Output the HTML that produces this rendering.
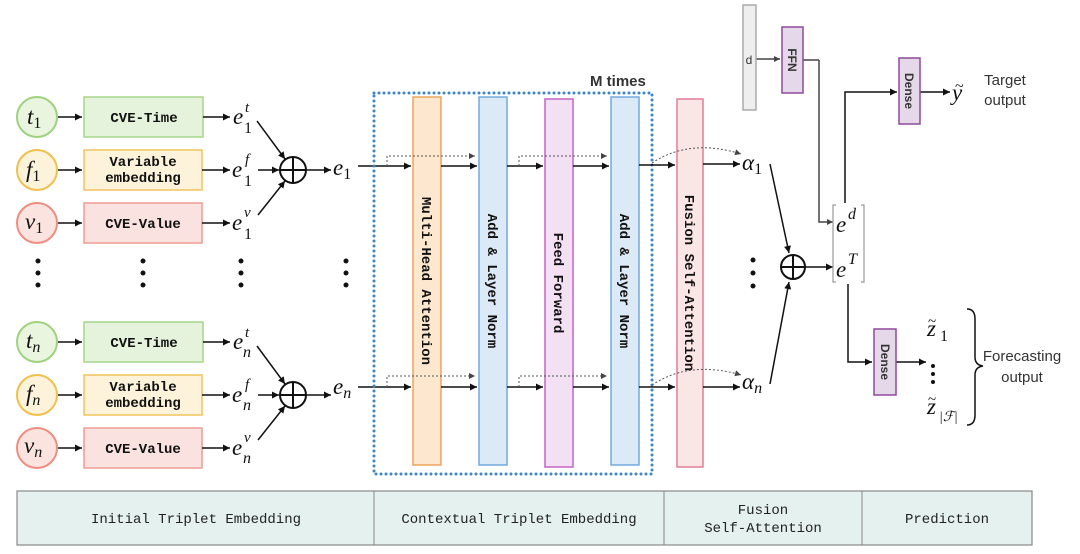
<!DOCTYPE html>
<html><head><meta charset="utf-8"><style>
html,body{margin:0;padding:0;background:#fff;width:1080px;height:554px;overflow:hidden}
svg{display:block}
.m{font-family:"Liberation Mono",monospace;font-weight:bold;font-size:14px;fill:#111}
.mt{font-family:"Liberation Serif",serif;font-style:italic;fill:#111}
.s{font-family:"Liberation Sans",sans-serif;fill:#333}
.tb{font-family:"Liberation Mono",monospace;font-size:14px;fill:#222}
</style></head><body>
<svg width="1080" height="554" viewBox="0 0 1080 554" xmlns="http://www.w3.org/2000/svg">
<defs>
<marker id="a" viewBox="0 0 10 10" refX="10" refY="5" markerWidth="9" markerHeight="7" markerUnits="userSpaceOnUse" orient="auto"><path d="M0,0L10,5L0,10z" fill="#111"/></marker>
<marker id="g" viewBox="0 0 10 10" refX="10" refY="5" markerWidth="8" markerHeight="6" markerUnits="userSpaceOnUse" orient="auto"><path d="M0,0L10,5L0,10z" fill="#444"/></marker>
</defs>
<g stroke="#111" stroke-width="1.5" fill="none">
<g id="rows">
<circle cx="37" cy="117" r="20" fill="#eaf5e0" stroke="#9fd27f" stroke-width="2"/>
<circle cx="37" cy="170" r="20" fill="#fdf3da" stroke="#f0c04c" stroke-width="2"/>
<circle cx="37" cy="223" r="20" fill="#fbe4e0" stroke="#ee8e80" stroke-width="2"/>
<rect x="84" y="97" width="119" height="40" fill="#e5f3dc" stroke="#a6d68a"/>
<rect x="84" y="150" width="118" height="40" fill="#fdf3da" stroke="#f2c45c"/>
<rect x="84" y="203" width="118" height="40" fill="#f9e2df" stroke="#ee9c90"/>
<line x1="58" y1="117" x2="82" y2="117" marker-end="url(#a)"/>
<line x1="58" y1="170" x2="82" y2="170" marker-end="url(#a)"/>
<line x1="58" y1="223" x2="82" y2="223" marker-end="url(#a)"/>
<line x1="203" y1="117" x2="230" y2="117" marker-end="url(#a)"/>
<line x1="202" y1="170" x2="230" y2="170" marker-end="url(#a)"/>
<line x1="202" y1="223" x2="230" y2="223" marker-end="url(#a)"/>
<line x1="257" y1="121" x2="285" y2="159" marker-end="url(#a)"/>
<line x1="258" y1="170" x2="279" y2="170" marker-end="url(#a)"/>
<line x1="258" y1="215" x2="285" y2="181" marker-end="url(#a)"/>
<circle cx="293" cy="170" r="13" stroke-width="2" fill="#fff"/>
<line x1="280" y1="170" x2="306" y2="170" stroke-width="2"/>
<line x1="293" y1="157" x2="293" y2="183" stroke-width="2"/>
<line x1="306" y1="170" x2="331" y2="170" marker-end="url(#a)"/>
</g>
<use href="#rows" transform="translate(0,225)"/>
<line x1="358" y1="166" x2="411" y2="166" marker-end="url(#a)"/>
<line x1="358" y1="387" x2="411" y2="387" marker-end="url(#a)"/>
</g>
<g class="m" text-anchor="middle">
<text x="144" y="122">CVE-Time</text><text x="143" y="166">Variable</text><text x="143" y="182">embedding</text><text x="143" y="228">CVE-Value</text>
<text x="144" y="347">CVE-Time</text><text x="143" y="391">Variable</text><text x="143" y="407">embedding</text><text x="143" y="453">CVE-Value</text>
</g>
<g class="mt" font-size="23">
<text x="27" y="124">t<tspan font-style="normal" font-size="16" dy="4">1</tspan></text>
<text x="26" y="177">f<tspan font-style="normal" font-size="16" dy="4">1</tspan></text>
<text x="25" y="229">v<tspan font-style="normal" font-size="16" dy="4">1</tspan></text>
<text x="26" y="348">t<tspan font-size="16" dy="4">n</tspan></text>
<text x="26" y="401">f<tspan font-size="16" dy="4">n</tspan></text>
<text x="24" y="453">v<tspan font-size="16" dy="4">n</tspan></text>
<text x="333" y="175">e<tspan font-style="normal" font-size="16" dy="4">1</tspan></text>
<text x="333" y="394">e<tspan font-size="16" dy="4">n</tspan></text>
</g>
<g class="mt" font-size="23">
<text x="233" y="124">e</text><text x="232" y="177">e</text><text x="232" y="230">e</text>
<text x="233" y="349">e</text><text x="232" y="402">e</text><text x="232" y="455">e</text>
</g>
<g class="mt" font-size="15">
<text x="245" y="112">t</text><text x="244" y="133" font-style="normal" font-size="16">1</text>
<text x="245" y="164">f</text><text x="244" y="186" font-style="normal" font-size="16">1</text>
<text x="244" y="217">v</text><text x="244" y="239" font-style="normal" font-size="16">1</text>
<text x="245" y="337">t</text><text x="243" y="357" font-size="16">n</text>
<text x="245" y="389">f</text><text x="243" y="410" font-size="16">n</text>
<text x="244" y="442">v</text><text x="243" y="463" font-size="16">n</text>
</g>
<g fill="#111">
<circle cx="38" cy="261" r="2.5"/><circle cx="38" cy="273" r="2.5"/><circle cx="38" cy="285" r="2.5"/>
<circle cx="143" cy="261" r="2.5"/><circle cx="143" cy="273" r="2.5"/><circle cx="143" cy="285" r="2.5"/>
<circle cx="241" cy="261" r="2.5"/><circle cx="241" cy="273" r="2.5"/><circle cx="241" cy="285" r="2.5"/>
<circle cx="346" cy="261" r="2.5"/><circle cx="346" cy="273" r="2.5"/><circle cx="346" cy="285" r="2.5"/>
<circle cx="753" cy="260" r="2.5"/><circle cx="753" cy="273" r="2.5"/><circle cx="753" cy="286" r="2.5"/>
<circle cx="933" cy="366" r="2"/><circle cx="933" cy="374" r="2"/><circle cx="933" cy="382" r="2"/>
</g>
<rect x="374" y="93" width="278" height="381" fill="none" stroke="#3d85c6" stroke-width="3" stroke-dasharray="0 5" stroke-linecap="round"/>
<text x="590" y="86" class="s" font-size="15" font-weight="bold" fill="#444">M times</text>
<rect x="413" y="97" width="28" height="368" fill="#fde8cf" stroke="#eba55c" stroke-width="1.5"/>
<rect x="479" y="97" width="28" height="368" fill="#dceaf7" stroke="#72aade" stroke-width="1.5"/>
<rect x="545" y="99" width="28" height="368" fill="#f3e0f3" stroke="#c465c4" stroke-width="1.5"/>
<rect x="611" y="97" width="28" height="368" fill="#dceaf7" stroke="#72aade" stroke-width="1.5"/>
<rect x="677" y="99" width="26" height="368" fill="#fbe6e6" stroke="#e27d98" stroke-width="1.5"/>
<g class="m" font-size="15" text-anchor="middle">
<text transform="translate(422,281) rotate(90)">Multi-Head Attention</text>
<text transform="translate(488,281) rotate(90)">Add &amp; Layer Norm</text>
<text transform="translate(554,283) rotate(90)">Feed Forward</text>
<text transform="translate(620,281) rotate(90)">Add &amp; Layer Norm</text>
<text transform="translate(685,283) rotate(90)">Fusion Self-Attention</text>
</g>
<g stroke="#111" stroke-width="1.5" fill="none">
<line x1="441" y1="166" x2="477" y2="166" marker-end="url(#a)"/>
<line x1="507" y1="166" x2="543" y2="166" marker-end="url(#a)"/>
<line x1="573" y1="166" x2="609" y2="166" marker-end="url(#a)"/>
<line x1="639" y1="165" x2="675" y2="165" marker-end="url(#a)"/>
<line x1="703" y1="164" x2="740" y2="164" marker-end="url(#a)"/>
<line x1="441" y1="387" x2="477" y2="387" marker-end="url(#a)"/>
<line x1="507" y1="387" x2="543" y2="387" marker-end="url(#a)"/>
<line x1="573" y1="387" x2="609" y2="387" marker-end="url(#a)"/>
<line x1="639" y1="387" x2="675" y2="387" marker-end="url(#a)"/>
<line x1="703" y1="387" x2="740" y2="387" marker-end="url(#a)"/>
</g>
<g stroke="#555" stroke-width="1" fill="none" stroke-dasharray="2 2">
<path d="M387,166V156H475" marker-end="url(#g)"/>
<path d="M519,166V156H607" marker-end="url(#g)"/>
<path d="M387,387V376H475" marker-end="url(#g)"/>
<path d="M519,387V376H607" marker-end="url(#g)"/>
<path d="M652,163Q690,138 741,154" marker-end="url(#g)"/>
<path d="M652,385Q690,360 741,375" marker-end="url(#g)"/>
</g>
<g class="mt" font-size="23">
<text x="742" y="170">α<tspan font-style="normal" font-size="16" dy="4">1</tspan></text>
<text x="742" y="389">α<tspan font-size="16" dy="4">n</tspan></text>
</g>
<g stroke="#111" stroke-width="1.5" fill="none">
<line x1="770" y1="164" x2="789" y2="253" marker-end="url(#a)"/>
<line x1="770" y1="384" x2="789" y2="282" marker-end="url(#a)"/>
<circle cx="793" cy="267" r="12" stroke-width="2" fill="#fff"/>
<line x1="781" y1="267" x2="805" y2="267" stroke-width="2"/>
<line x1="793" y1="255" x2="793" y2="279" stroke-width="2"/>
<line x1="805" y1="267" x2="833" y2="267" marker-end="url(#a)"/>
<polyline points="819,60 819,222 833,222" stroke="#444" marker-end="url(#g)"/>
<line x1="756" y1="59" x2="780" y2="59" stroke="#444" marker-end="url(#g)"/>
<polyline points="803,60 819,60" stroke="#444"/>
<polyline points="845,203 845,92 897,92" marker-end="url(#a)"/>
<line x1="920" y1="92" x2="950" y2="92" marker-end="url(#a)"/>
<polyline points="848,284 848,362 872,362" marker-end="url(#a)"/>
<line x1="896" y1="362" x2="926" y2="362" marker-end="url(#a)"/>
<path d="M836,205h-3v77h3M861,205h3v77h-3" stroke="#999" stroke-width="1.2"/>
<path d="M967,309q8,0 8,10v38q0,8 8,9q-8,1 -8,9v40q0,10 -8,10" stroke-width="1.5"/>
</g>
<rect x="743" y="5" width="13" height="105" fill="#eee" stroke="#aaa" stroke-width="1.5"/>
<text x="749" y="64" class="s" font-size="12" fill="#222" text-anchor="middle">d</text>
<rect x="782" y="27" width="21" height="66" fill="#e5d8e8" stroke="#8e4a9b" stroke-width="1.5"/>
<rect x="899" y="58" width="21" height="66" fill="#e5d8e8" stroke="#8e4a9b" stroke-width="1.5"/>
<rect x="874" y="329" width="22" height="66" fill="#e5d8e8" stroke="#8e4a9b" stroke-width="1.5"/>
<g class="s" font-size="12" font-weight="bold" fill="#222" text-anchor="middle">
<text transform="translate(788,60) rotate(90)">FFN</text>
<text transform="translate(905,91) rotate(90)">Dense</text>
<text transform="translate(881,362) rotate(90)">Dense</text>
</g>
<g class="mt" font-size="23">
<text x="836" y="232">e</text><text x="848" y="219" font-size="16">d</text>
<text x="836" y="277">e</text><text x="848" y="264" font-size="16">T</text>
<text x="952" y="100">y</text><text x="955" y="91" font-style="normal" font-size="16">~</text>
<text x="927" y="336">z</text><text x="928" y="326" font-style="normal" font-size="15">~</text><text x="940" y="341" font-style="normal" font-size="16">1</text>
<text x="927" y="414">z</text><text x="928" y="404" font-style="normal" font-size="15">~</text><text x="939" y="421" font-size="14">|ℱ|</text>
</g>
<g class="s" font-size="15" fill="#444" text-anchor="middle">
<text x="1005" y="85">Target</text><text x="1005" y="105">output</text>
<text x="1022" y="361">Forecasting</text><text x="1022" y="382">output</text>
</g>
<rect x="17" y="491" width="1015" height="54" fill="#e4f1ee" stroke="#888" stroke-width="1.2"/>
<g stroke="#888" stroke-width="1"><line x1="374" y1="491" x2="374" y2="545"/><line x1="664" y1="491" x2="664" y2="545"/><line x1="862" y1="491" x2="862" y2="545"/></g>
<g class="tb" text-anchor="middle">
<text x="196" y="523">Initial Triplet Embedding</text>
<text x="519" y="523">Contextual Triplet Embedding</text>
<text x="763" y="514">Fusion</text><text x="763" y="532">Self-Attention</text>
<text x="947" y="523">Prediction</text>
</g>
</svg>
</body></html>
